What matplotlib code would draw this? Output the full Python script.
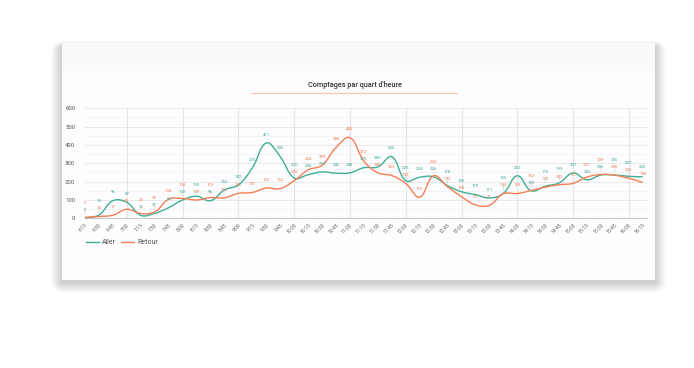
import matplotlib
matplotlib.use("Agg")
import matplotlib.pyplot as plt
from matplotlib.path import Path
from matplotlib.patches import PathPatch, Rectangle, FancyBboxPatch
import numpy as np

W, H = 694, 368

# ---- data ----
times = []
h, m = 6, 15
for _ in range(41):
    times.append(f"{h}:{m:02d}")
    m += 15
    if m == 60:
        m = 0
        h += 1

aller = [2, 18, 96, 87, 16, 27, 58, 100, 120, 96, 155, 182, 275, 411, 336, 220,
         238, 253, 246, 248, 276, 280, 336, 205, 224, 226, 178, 145, 129, 111,
         136, 232, 150, 175, 193, 247, 210, 236, 236, 229, 226]
retour = [5, 10, 17, 49, 26, 35, 104, 108, 100, 113, 112, 136, 141, 165, 162, 205,
          264, 289, 386, 440, 312, 248, 233, 190, 115, 232, 172, 118, 73, 71,
          134, 135, 152, 170, 183, 191, 225, 239, 235, 218, 196]
series_names = ["Aller", "Retour"]
title = "Comptages par quart d'heure"
yticks = [0, 100, 200, 300, 400, 500, 600]

GREEN = "#3fae95"
ORANGE = "#f47f55"
FONT = "Roboto"

plt.rcParams['font.family'] = [FONT, 'DejaVu Sans']

fig = plt.figure(figsize=(W / 100, H / 100), dpi=100)
fig.patch.set_facecolor("white")


def fx(x):
    return x / W


def fy(y):
    return 1 - y / H


# ---- card with shadow ----
bg = fig.add_axes([0, 0, 1, 1])
bg.set_xlim(0, W)
bg.set_ylim(H, 0)
bg.axis("off")
for k in range(16, 0, -1):
    bg.add_patch(FancyBboxPatch((62 - k * 0.7, 46 - k * 0.3), 593 + k * 1.4, 236 + k * 1.0,
                                boxstyle=f"round,pad=0,rounding_size={k*0.9}",
                                facecolor="black", edgecolor="none", alpha=0.010))
bg.add_patch(Rectangle((62, 43), 593, 237, facecolor="#fdfcfe", edgecolor="none"))
bg.add_patch(Rectangle((62, 43), 593, 28, facecolor="#faf9fc", edgecolor="none"))

# title
bg.text(355, 85, title, ha="center", va="center", fontsize=5.2, color="#333333",
        fontweight="medium")
bg.plot([251, 457], [92.5, 92.5], color="#f8c3a6", lw=0.8)

# legend
bg.plot([86, 99], [242, 242], color=GREEN, lw=1)
bg.text(102, 242, series_names[0], fontsize=5, color="#555555", va="center")
bg.plot([121, 134], [242, 242], color=ORANGE, lw=1)
bg.text(137, 242, series_names[1], fontsize=5, color="#555555", va="center")

# ---- plot axes ----
left, right, top, bottom = 85, 647, 108.3, 218.3
ax = fig.add_axes([fx(left), fy(bottom), (right - left) / W, (bottom - top) / H])
ax.set_facecolor("none")
n = len(times)
xs = np.arange(n)
ax.set_xlim(0, 40.3)
ax.set_ylim(0, 600)

for s in ["top", "right", "left"]:
    ax.spines[s].set_visible(False)
ax.spines["bottom"].set_color("#c8c8c8")
ax.spines["bottom"].set_linewidth(0.8)

ax.set_yticks(yticks)
ax.set_yticklabels([str(v) for v in yticks], fontsize=4.3, color="#555555")
ax.set_yticks(np.arange(50, 600, 100), minor=True)
ax.tick_params(axis="y", length=0, pad=7)
ax.tick_params(axis="y", which="minor", length=0)
ax.grid(axis="y", which="major", color="#e6e6e6", lw=0.6)
ax.grid(axis="y", which="minor", color="#f1f1f1", lw=0.5)

ax.set_xticks(xs)
ax.set_xticklabels(times, fontsize=3.6, color="#666666", rotation=45,
                   ha="right", rotation_mode="anchor")
ax.tick_params(axis="x", length=0, pad=3)
for i, t in enumerate(times):
    if t.endswith(":00"):
        ax.axvline(i, color="#e3e3e3", lw=0.8, zorder=0)
ax.set_axisbelow(True)

fig.canvas.draw()
trans = ax.transData
inv = trans.inverted()


def smooth_path(vals, tension=0.4):
    pts = trans.transform(np.column_stack([xs, vals]))
    m = len(pts)
    prev_cp = [None] * m
    next_cp = [None] * m
    for i in range(m):
        p0 = pts[i - 1] if i > 0 else pts[i]
        p1 = pts[i]
        p2 = pts[i + 1] if i < m - 1 else pts[i]
        d01 = np.hypot(*(p1 - p0))
        d12 = np.hypot(*(p2 - p1))
        tot = d01 + d12
        s01 = d01 / tot if tot else 0
        s12 = d12 / tot if tot else 0
        fa, fb = tension * s01, tension * s12
        prev_cp[i] = p1 - fa * (p2 - p0)
        next_cp[i] = p1 + fb * (p2 - p0)
    verts = [pts[0]]
    codes = [Path.MOVETO]
    for i in range(m - 1):
        verts += [next_cp[i], prev_cp[i + 1], pts[i + 1]]
        codes += [Path.CURVE4] * 3
    verts = inv.transform(np.array(verts))
    return Path(verts, codes)


for vals, col in [(aller, GREEN), (retour, ORANGE)]:
    ax.add_patch(PathPatch(smooth_path(vals), facecolor="none", edgecolor=col,
                           lw=1.0, zorder=3, clip_on=False))

# data labels, stacked when the two series are close
px_per_unit = (trans.transform((0, 100))[1] - trans.transform((0, 0))[1]) / 100.0
for i in range(n):
    a, r = aller[i], retour[i]
    offs = {"a": 4.5, "r": 4.5}
    diff_px = abs(a - r) * px_per_unit
    if diff_px < 7:
        extra = (7 - diff_px) * 0.72  # in points
        if a >= r:
            offs["a"] += extra
        else:
            offs["r"] += extra
    for key, v, col in [("a", a, GREEN), ("r", r, ORANGE)]:
        ax.annotate(str(v), (i, v), xytext=(0, offs[key]), textcoords="offset points",
                    ha="center", va="bottom", fontsize=3.2, color=col, zorder=4)
        ax.annotate("", (i, v), xytext=(0, offs[key] - 0.3), textcoords="offset points",
                    arrowprops=dict(arrowstyle="-", color=col, lw=0.3, alpha=0.6))

fig.savefig("out.png", dpi=100, facecolor="white")
